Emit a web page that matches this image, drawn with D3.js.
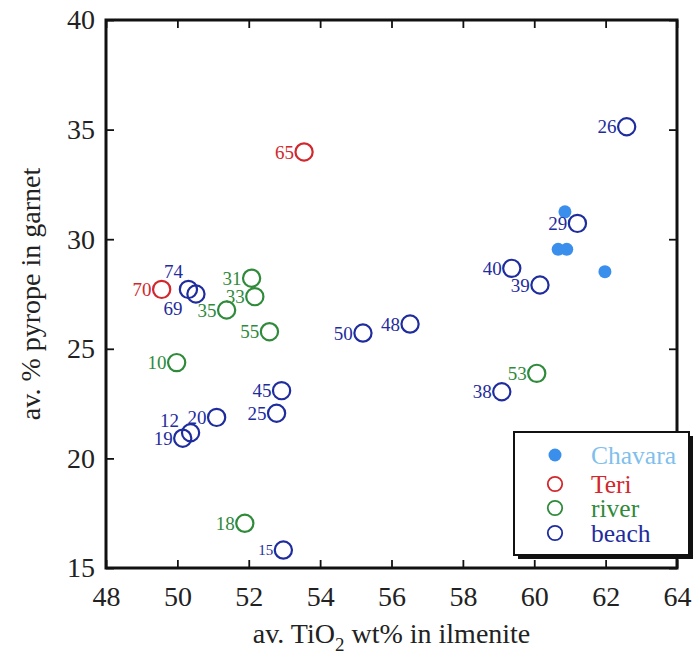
<!DOCTYPE html>
<html>
<head>
<meta charset="utf-8">
<script src="https://cdn.jsdelivr.net/npm/d3@7/dist/d3.min.js"></script>
<style>
  html, body { margin: 0; padding: 0; background: #fff; }
  svg { display: block; }
  text { font-family: "Liberation Serif", "Times New Roman", serif; }
</style>
</head>
<body>
<svg id="chart" width="696" height="663"></svg>
<script>
// Sample averages: TiO2 wt% in ilmenite (x) vs. % pyrope in garnet (y)
const chavaraTiO2   = [60.86, 60.67, 60.91, 61.98];
const chavaraPyrope = [31.25, 29.54, 29.54, 28.52];

const teriIds    = ["65", "70"];
const teriTiO2   = [53.55, 49.56];
const teriPyrope = [33.98, 27.71];

const riverIds    = ["31", "33", "35", "55", "10", "18", "53"];
const riverTiO2   = [52.08, 52.17, 51.38, 52.58, 49.98, 51.89, 60.07];
const riverPyrope = [28.22, 27.38, 26.77, 25.78, 24.37, 17.04, 23.88];

const beachIds    = ["26", "29", "40", "39", "38", "50", "48", "74", "69", "45", "25", "20", "12", "19", "15"];
const beachTiO2   = [62.59, 61.21, 59.37, 60.16, 59.09, 55.20, 56.52, 50.31, 50.52, 52.92, 52.78, 51.10, 50.37, 50.15, 52.97];
const beachPyrope = [35.13, 30.72, 28.67, 27.91, 23.04, 25.72, 26.13, 27.71, 27.50, 23.09, 22.06, 21.87, 21.17, 20.92, 15.82];

const xTicks = [48, 50, 52, 54, 56, 58, 60, 62, 64];
const yTicks = [15, 20, 25, 30, 35, 40];

const legendNames = ["Chavara", "Teri", "river", "beach"];

// styling
const colors = {
  Chavara: "#3b8fec",
  ChavaraText: "#7fbfec",
  Teri: "#d2282d",
  river: "#2f8a3a",
  beach: "#1f2c9e"
};
const R = 8.6;
// label placements that differ from the default "left of the circle"
const labelPlace = {
  "74": { dx: -15, dy: -18, anchor: "middle" },
  "69": { dx: -23, dy: 14, anchor: "middle" },
  "12": { dx: -21, dy: -12, anchor: "middle" }
};
const labelSize = { "15": 15 };

const svg = d3.select("#chart");
const plotL = 106, plotR = 677, plotT = 20, plotB = 568;

const x = d3.scaleLinear().domain([48, 64]).range([plotL, plotR]);
const y = d3.scaleLinear().domain([15, 40]).range([plotB, plotT]);

// axes: ticks point inward on all four sides
const tickLen = 8;
const fmt = d3.format("d");

const gB = svg.append("g").attr("transform", `translate(0,${plotB})`)
  .call(d3.axisBottom(x).tickValues(xTicks).tickFormat(fmt).tickSizeInner(-tickLen).tickSizeOuter(0).tickPadding(18));
const gT = svg.append("g").attr("transform", `translate(0,${plotT})`)
  .call(d3.axisTop(x).tickValues(xTicks).tickFormat("").tickSizeInner(-tickLen).tickSizeOuter(0));
const gL = svg.append("g").attr("transform", `translate(${plotL},0)`)
  .call(d3.axisLeft(y).tickValues(yTicks).tickFormat(fmt).tickSizeInner(-tickLen).tickSizeOuter(0).tickPadding(11));
const gR = svg.append("g").attr("transform", `translate(${plotR},0)`)
  .call(d3.axisRight(y).tickValues(yTicks).tickFormat("").tickSizeInner(-tickLen).tickSizeOuter(0));

[gB, gT, gL, gR].forEach(g => {
  g.select(".domain").remove();
  g.selectAll(".tick line").attr("stroke", "#111").attr("stroke-width", 1.8);
  g.selectAll(".tick text").attr("fill", "#222").attr("font-size", 28)
    .attr("font-family", "'Liberation Serif', 'Times New Roman', serif");
});

svg.append("rect")
  .attr("x", plotL).attr("y", plotT)
  .attr("width", plotR - plotL).attr("height", plotB - plotT)
  .attr("fill", "none").attr("stroke", "#111").attr("stroke-width", 3);

// axis titles
const xt = svg.append("text")
  .attr("x", (plotL + plotR) / 2).attr("y", 643)
  .attr("text-anchor", "middle").attr("font-size", 28).attr("fill", "#222");
xt.append("tspan").text("av. TiO");
xt.append("tspan").text("2").attr("font-size", 19).attr("dy", 8);
xt.append("tspan").text(" wt% in ilmenite").attr("dy", -8);

svg.append("text")
  .attr("transform", `translate(40,${(plotT + plotB) / 2}) rotate(-90)`)
  .attr("text-anchor", "middle").attr("font-size", 28).attr("fill", "#222")
  .text("av. % pyrope in garnet");

// open-circle groups with number labels
function openGroup(ids, xs, ys, color) {
  const data = ids.map((id, i) => ({ id, tx: xs[i], py: ys[i] }));
  const g = svg.append("g");
  g.selectAll("circle").data(data).enter().append("circle")
    .attr("cx", d => x(d.tx)).attr("cy", d => y(d.py)).attr("r", R)
    .attr("fill", "none").attr("stroke", color).attr("stroke-width", 2.2);
  g.selectAll("text").data(data).enter().append("text")
    .attr("x", d => x(d.tx) + (labelPlace[d.id] ? labelPlace[d.id].dx : -(R + 1.5)))
    .attr("y", d => y(d.py) + (labelPlace[d.id] ? labelPlace[d.id].dy : 0))
    .attr("dy", "0.35em")
    .attr("text-anchor", d => labelPlace[d.id] ? labelPlace[d.id].anchor : "end")
    .attr("font-size", d => labelSize[d.id] || 19)
    .attr("fill", color)
    .text(d => d.id);
}

// Chavara filled dots
svg.append("g").selectAll("circle")
  .data(chavaraTiO2.map((v, i) => [v, chavaraPyrope[i]]))
  .enter().append("circle")
  .attr("cx", d => x(d[0])).attr("cy", d => y(d[1])).attr("r", 6.5)
  .attr("fill", colors.Chavara);

openGroup(riverIds, riverTiO2, riverPyrope, colors.river);
openGroup(teriIds, teriTiO2, teriPyrope, colors.Teri);
openGroup(beachIds, beachTiO2, beachPyrope, colors.beach);

// legend box with drop shadow, sitting over the lower-right corner of the frame
const lg = svg.append("g");
const lx = 514, ly = 432, lw = 175, lh = 123, sh = 4;
lg.append("rect").attr("x", lx + sh).attr("y", ly + sh).attr("width", lw).attr("height", lh)
  .attr("fill", "#111");
lg.append("rect").attr("x", lx).attr("y", ly).attr("width", lw).attr("height", lh)
  .attr("fill", "#fff").attr("stroke", "#111").attr("stroke-width", 2);

const rowY = [455, 484, 508, 533];
legendNames.forEach((name, i) => {
  const cy = rowY[i];
  if (name === "Chavara") {
    lg.append("circle").attr("cx", 555).attr("cy", cy).attr("r", 6.5).attr("fill", colors.Chavara);
  } else {
    lg.append("circle").attr("cx", 555).attr("cy", cy).attr("r", 7.2)
      .attr("fill", "none").attr("stroke", colors[name]).attr("stroke-width", 1.8);
  }
  lg.append("text").attr("x", 591).attr("y", cy + 8.5)
    .attr("font-size", 25.5)
    .attr("fill", name === "Chavara" ? colors.ChavaraText : colors[name])
    .text(name);
});
</script>
</body>
</html>
